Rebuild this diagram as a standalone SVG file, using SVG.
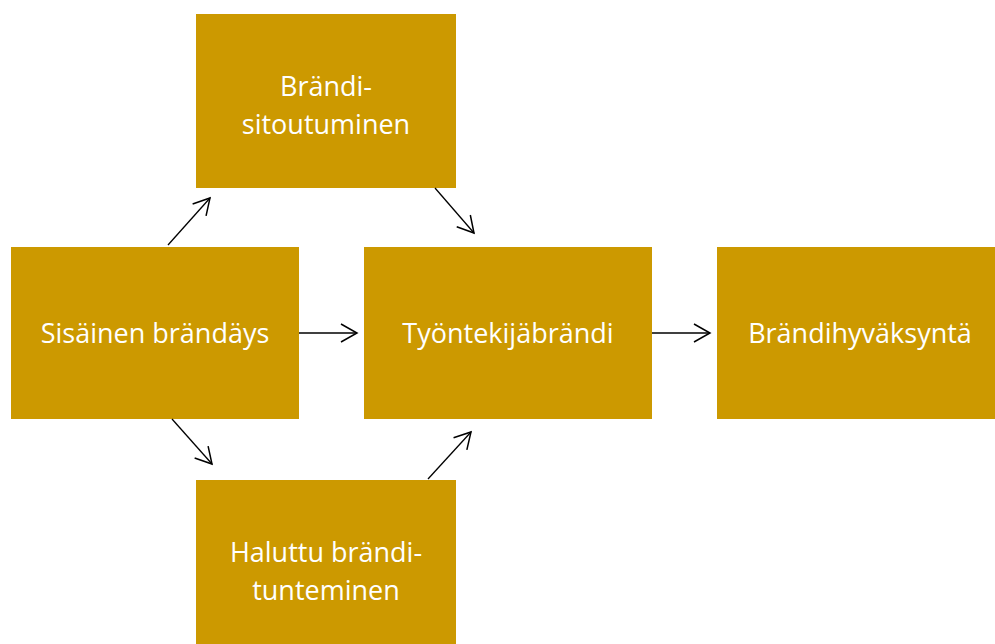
<svg xmlns="http://www.w3.org/2000/svg" width="995" height="644" viewBox="0 0 995 644">
<style>
.box{fill:#CC9900}
.t{fill:#ffffff;font-family:"Open Sans","Liberation Sans",sans-serif;font-size:27px;text-anchor:middle}
.c{stroke:#000000;stroke-width:1.3;fill:none}
</style>
<defs>
<marker id="ah" viewBox="0 0 20 20" refX="18" refY="10" markerWidth="20" markerHeight="20" markerUnits="userSpaceOnUse" orient="auto">
<polyline points="2,1 18,10 2,19" fill="none" stroke="#000" stroke-width="1.5"/>
</marker>
</defs>
<rect width="995" height="644" fill="#ffffff"/>
<g id="node-sitoutuminen">
<rect class="box" x="196" y="14" width="260" height="174"/>
<text class="t" x="326" y="96">Brändi-</text>
<text class="t" x="326" y="134">sitoutuminen</text>
</g>
<g id="node-sisainen">
<rect class="box" x="11" y="247" width="288" height="172"/>
<text class="t" x="155" y="343">Sisäinen brändäys</text>
</g>
<g id="node-tyontekija">
<rect class="box" x="364" y="247" width="288" height="172"/>
<text class="t" x="508" y="343">Työntekijäbrändi</text>
</g>
<g id="node-hyvaksynta">
<rect class="box" x="717" y="247" width="278" height="172"/>
<text class="t" x="860" y="343">Brändihyväksyntä</text>
</g>
<g id="node-tunteminen">
<rect class="box" x="196" y="480" width="260" height="164"/>
<text class="t" x="326" y="562">Haluttu brändi-</text>
<text class="t" x="326" y="600">tunteminen</text>
</g>
<g id="connectors">
<line class="c" x1="168" y1="245" x2="210" y2="198" marker-end="url(#ah)"/>
<line class="c" x1="435" y1="188" x2="474" y2="233" marker-end="url(#ah)"/>
<line class="c" x1="299" y1="333" x2="357" y2="333" marker-end="url(#ah)"/>
<line class="c" x1="172" y1="419" x2="212" y2="464" marker-end="url(#ah)"/>
<line class="c" x1="428" y1="479" x2="471" y2="432" marker-end="url(#ah)"/>
<line class="c" x1="652" y1="333" x2="710" y2="333" marker-end="url(#ah)"/>
</g>
</svg>
